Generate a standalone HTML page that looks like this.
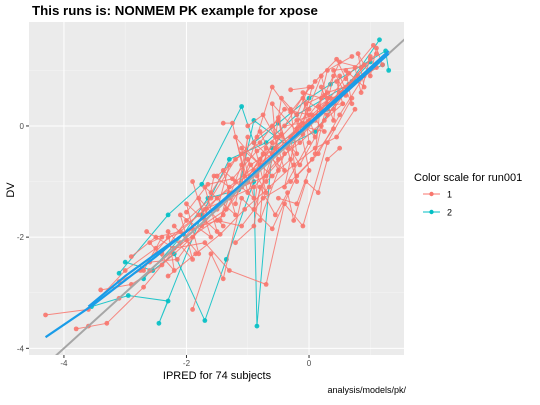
<!DOCTYPE html>
<html><head><meta charset="utf-8"><style>
body{margin:0;background:#fff;font-family:"Liberation Sans",sans-serif}
svg text{font-family:"Liberation Sans",sans-serif}
</style></head><body>
<svg id="c" width="540" height="400" xmlns="http://www.w3.org/2000/svg">
<text x="32" y="15" font-size="13.3" font-weight="bold" fill="#000">This runs is: NONMEM PK example for xpose</text>
<rect x="29" y="22" width="375" height="333" fill="#ebebeb"/>
<g id="grid"></g><g id="marks"></g><g id="axes"></g>
<text x="217" y="379" font-size="11" text-anchor="middle" fill="#000">IPRED for 74 subjects</text>
<text transform="translate(14,190) rotate(-90)" font-size="11" text-anchor="middle" fill="#000">DV</text>
<text x="406" y="393" font-size="9" text-anchor="end" fill="#000">analysis/models/pk/</text>
<g>
<text x="414" y="181" font-size="11" fill="#000">Color scale for run001</text>
<g><line x1="423" y1="194" x2="440" y2="194" stroke="#F8766D" stroke-width="1"/><circle cx="431.5" cy="194" r="2.2" fill="#F8766D"/><text x="447" y="197.5" font-size="9" fill="#000">1</text></g>
<g><line x1="423" y1="212" x2="440" y2="212" stroke="#00BFC4" stroke-width="1"/><circle cx="431.5" cy="212" r="2.2" fill="#00BFC4"/><text x="447" y="215.5" font-size="9" fill="#000">2</text></g>
</g>
</svg>
<script>
const xTicks=[-4,-2,0];
const yTicks=[0,-2,-4];
const group1=[
[[-4.3,-3.4],[-3.6,-3.3],[-3.0,-2.6],[-2.5,-2.2],[-1.8,-1.6],[-1.2,-1.0],[-0.6,-0.5],[0,0.1],[0.6,0.7],[1.0,1.2]],
[[-3.8,-3.65],[-3.3,-3.55],[-2.7,-2.9],[-2.1,-2.1],[-1.5,-1.3],[-0.9,-0.8],[-0.3,-0.2],[0.3,0.4],[0.8,0.9]],
[[-3.6,-3.6],[-3.1,-3.1],[-2.6,-2.6],[-2.0,-2.05],[-1.4,-1.6],[-0.8,-0.6],[-0.2,0.1],[0.4,0.3],[0.9,1.1]],
[[-3.4,-2.95],[-2.9,-2.85],[-2.4,-2.5],[-1.9,-2.0],[-1.3,-1.2],[-0.7,-0.9],[-0.1,-0.15],[0.5,0.6],[1.1,1.3]],
[[-2.65,-1.9],[-2.2,-2.2],[-1.7,-2.1],[-1.3,-2.6],[-0.7,-2.85],[-0.4,-1.4],[-0.1,-1.8],[0.3,-0.3],[0.7,0.5]],
[[-1.9,-3.3],[-1.6,-2.3],[-1.4,-2.75],[-1.1,-1.3],[-0.6,-1.85],[-0.2,-0.9],[0.15,-0.5],[0.5,0.2],[0.9,0.9]],
[[-1.4,0.05],[-1.25,0.05],[-1.05,-0.9],[-0.6,0.7],[-0.3,0.25],[0.1,0.8],[0.45,1.2],[0.6,0.85],[1.05,1.45]],
[[-2.4,-2.3],[-2.0,-1.7],[-1.6,-1.3],[-1.2,-0.6],[-0.8,-0.3],[-0.4,0.3],[0.0,0.2],[0.3,0.6],[0.7,0.75]],
[[-2.9,-2.35],[-2.5,-2.0],[-2.1,-1.9],[-1.7,-1.5],[-1.3,-1.3],[-0.9,-1.1],[-0.5,-0.6],[-0.15,-0.3],[0.25,0.1],[0.55,0.4]],
[[-2.3,-2.7],[-1.85,-2.3],[-1.45,-1.95],[-1.05,-1.5],[-0.65,-1.1],[-0.25,-0.7],[0.1,-0.4],[0.45,-0.2],[0.75,0.3]],
[[-2.6,-2.45],[-2.15,-2.4],[-1.75,-1.8],[-1.35,-1.5],[-0.95,-0.7],[-0.55,-0.4],[-0.2,-0.05],[0.2,0.3],[0.65,0.95]],
[[-1.5,-0.9],[-1.1,-0.5],[-0.85,-0.2],[-0.5,0.1],[-0.35,-0.4],[-0.05,0.4],[0.25,0.55],[0.5,1.15],[0.85,1.05]],
[[-2.0,-1.55],[-1.65,-1.05],[-1.25,-0.95],[-0.85,-0.45],[-0.45,-0.15],[-0.15,-0.7],[0.2,0.0],[0.55,0.6],[1.1,1.05]],
[[-3.1,-2.8],[-2.75,-2.6],[-2.3,-2.0],[-1.9,-1.85],[-1.5,-1.7],[-1.1,-1.8],[-0.75,-1.3],[-0.3,-1.0],[0.05,-0.6],[0.4,-0.05]],
[[-1.0,-0.6],[-0.7,-1.2],[-0.9,-0.3],[-0.4,-0.8],[-0.6,0.0],[-0.2,-0.5],[-0.3,0.3],[0.1,-0.2],[-0.1,0.5],[0.3,0.2]],
[[-2.2,-1.8],[-1.8,-2.3],[-2.0,-1.4],[-1.5,-1.9],[-1.7,-1.1],[-1.2,-1.6],[-1.4,-0.8],[-0.9,-1.3],[-1.1,-0.4],[-0.6,-0.9]],
[[-1.6,-1.2],[-1.3,-0.7],[-1.5,-1.5],[-1.0,-1.0],[-1.2,-0.2],[-0.8,-0.7],[-0.9,-1.5],[-0.5,-0.2],[-0.7,-1.0],[-0.3,-0.6]],
[[-0.8,-0.1],[-0.5,-0.8],[-0.6,0.4],[-0.2,-0.1],[-0.4,-1.1],[0.0,-0.3],[-0.1,0.6],[0.2,0.5],[0.1,-0.5],[0.4,0.9]],
[[-2.7,-2.6],[-2.4,-2.0],[-2.6,-2.1],[-2.2,-2.6],[-2.3,-1.9],[-1.9,-2.4],[-2.1,-1.6],[-1.6,-2.0],[-1.8,-1.3],[-1.4,-1.8]],
[[-1.2,-1.4],[-1.0,-0.2],[-1.1,-1.1],[-0.7,-0.4],[-0.8,-1.7],[-0.4,-0.5],[-0.5,0.15],[-0.2,-1.0],[-0.3,-0.2],[0.0,0.3]],
[[0.2,0.7],[0.4,0.1],[0.5,0.9],[0.7,0.4],[0.6,1.0],[0.9,0.7],[0.8,1.3],[1.0,0.9],[1.1,1.4],[1.2,1.1]],
[[-0.5,-1.3],[-0.2,-1.4],[0.0,-0.8],[-0.15,0.0],[0.25,-0.1],[0.05,0.2],[0.35,0.5],[0.15,0.35],[0.55,0.4],[0.45,0.8]],
[[-1.9,-1.0],[-1.7,-1.7],[-1.55,-0.9],[-1.3,-1.1],[-1.45,-1.7],[-1.1,-0.7],[-1.0,-1.2],[-0.75,-0.5],[-0.85,-0.9],[-0.6,-0.3]],
[[-0.3,0.65],[0.05,0.7],[-0.1,0.05],[0.2,0.9],[0.3,0.5],[0.6,0.55],[0.4,1.0],[0.75,1.05],[0.85,0.6],[1.0,1.25]],
[[-1.2,-2.1],[-0.9,-1.8],[-0.8,-1.1],[-0.55,-1.6],[-0.35,-1.2],[-0.25,-1.7],[-0.05,-1.0],[0.15,-1.2],[0.3,-0.6],[0.5,-0.4]],
[[-1.0,0.0],[-0.75,0.2],[-0.55,-0.2],[-0.45,0.5],[-0.2,0.2],[0.0,0.7],[-0.4,0.0],[0.1,0.1],[0.3,1.0],[0.7,1.25]]
];
const group2=[
[[-3.1,-2.65],[-2.3,-1.6],[-1.75,-1.05],[-1.1,0.35],[-0.9,-0.3],[-0.5,0.05],[0.0,0.5],[0.35,0.75],[1.25,1.35],[1.3,1.0]],
[[-3.55,-3.25],[-2.95,-3.05],[-2.3,-3.15],[-2.45,-3.55],[-1.75,-1.6],[-1.3,-0.6],[-0.7,-0.3],[-0.2,0.2],[0.65,0.75],[1.15,1.55]],
[[-3.0,-2.45],[-2.55,-2.6],[-2.2,-2.3],[-1.7,-3.5],[-1.35,-2.4],[-0.9,-1.0],[-0.85,-3.6],[-0.6,-0.4],[0.3,0.3],[1.0,1.15]],
[[-2.7,-2.75],[-2.05,-1.95],[-1.65,-1.3],[-1.15,-1.15],[-0.9,0.1],[-0.35,-0.35],[0.1,-0.1],[0.7,0.8],[1.2,1.1]]
];
const smooth1=[[-4.3,-3.8],[-3.5,-3.2],[-2.5,-2.35],[-1.5,-1.45],[-0.5,-0.45],[0.5,0.5],[1.3,1.3]];
const smooth2=[[-3.6,-3.25],[-3.0,-2.7],[-2.0,-1.9],[-1.0,-0.95],[0.0,0.05],[1.3,1.35]];
const identity=[-4.2,1.7];
const X0=29,X1=404,Y0=22,Y1=355;
const xmin=-4.57,xmax=1.55,ymin=-4.12,ymax=1.87;
const sx=v=>X0+(v-xmin)/(xmax-xmin)*(X1-X0);
const sy=v=>Y1-(v-ymin)/(ymax-ymin)*(Y1-Y0);
const NS="http://www.w3.org/2000/svg";
function mk(t,a,p){const e=document.createElementNS(NS,t);for(const k in a)e.setAttribute(k,a[k]);p.appendChild(e);return e;}
const grid=document.getElementById('grid'),marks=document.getElementById('marks'),axes=document.getElementById('axes');
[-3,-1,1].forEach(v=>{const l=mk('line',{x1:sx(v),x2:sx(v),y1:Y0,y2:Y1,stroke:'#f5f5f5','stroke-width':0.5},grid);});
[1,-1,-3].forEach(v=>{const l=mk('line',{x1:X0,x2:X1,y1:sy(v),y2:sy(v),stroke:'#f5f5f5','stroke-width':0.5},grid);});
xTicks.forEach(v=>{const l=mk('line',{x1:sx(v),x2:sx(v),y1:Y0,y2:Y1,stroke:'#fff','stroke-width':1},grid);
const t=mk('line',{x1:sx(v),x2:sx(v),y1:Y1,y2:Y1+3,stroke:'#333'},axes);
const tx=mk('text',{x:sx(v),y:Y1+11,'font-size':8,'text-anchor':'middle',fill:'#4d4d4d'},axes);tx.textContent=v;});
yTicks.forEach(v=>{const l=mk('line',{x1:X0,x2:X1,y1:sy(v),y2:sy(v),stroke:'#fff','stroke-width':1},grid);
const t=mk('line',{x1:X0-3,x2:X0,y1:sy(v),y2:sy(v),stroke:'#333'},axes);
const tx=mk('text',{x:X0-5,y:sy(v)+3,'font-size':8,'text-anchor':'end',fill:'#4d4d4d'},axes);tx.textContent=v;});
function series(groups,col,name){groups.forEach(s=>{
const p=mk('polyline',{points:s.map(d=>sx(d[0])+','+sy(d[1])).join(' '),fill:'none',stroke:col,'stroke-width':1,opacity:0.85},marks);

s.forEach(d=>{const c=mk('circle',{cx:sx(d[0]),cy:sy(d[1]),r:2.4,fill:col,opacity:0.9},marks);});});}
series(group2,'#00BFC4','group-2');
series(group1,'#F8766D','group-1');
const cl=document.createElementNS(NS,'clipPath');cl.id='clp';document.querySelector('svg').appendChild(cl);mk('rect',{x:X0,y:Y0,width:X1-X0,height:Y1-Y0},cl);
const id=mk('line',{x1:sx(identity[0]),y1:sy(identity[0]),x2:sx(identity[1]),y2:sy(identity[1]),stroke:'#a6a6a6','stroke-width':2,'clip-path':'url(#clp)'},marks);


[smooth1,smooth2].forEach(s=>{const p=mk('polyline',{points:s.map(d=>sx(d[0])+','+sy(d[1])).join(' '),fill:'none',stroke:'#1a9ce8','stroke-width':2.2},marks);

});
</script>
</body></html>
